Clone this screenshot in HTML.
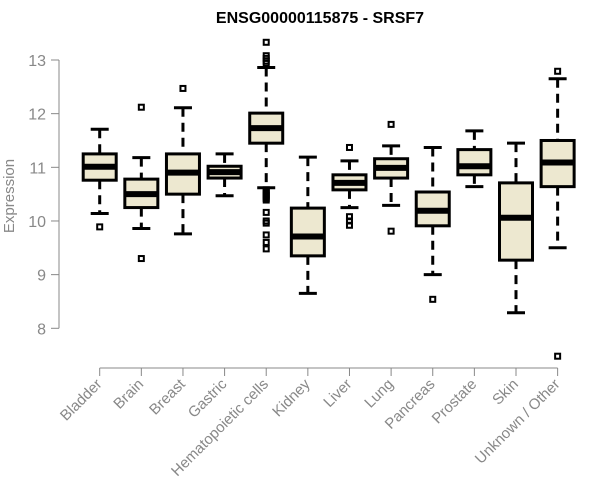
<!DOCTYPE html>
<html><head><meta charset="utf-8"><style>
body{margin:0;background:#fff}
svg{display:block;font-family:"Liberation Sans",Arial,sans-serif}
</style></head><body>
<svg id="chart" width="600" height="500">
<text x="320" y="23" text-anchor="middle" font-weight="bold" font-size="16" fill="#000">ENSG00000115875 - SRSF7</text>
<text transform="translate(14,196) rotate(-90)" text-anchor="middle" font-size="15" fill="#888">Expression</text>
<g id="yaxis"></g>
<g id="xaxis"></g>
<g id="boxes"></g>
</svg>
<script>
const categories=["Bladder","Brain","Breast","Gastric","Hematopoietic cells","Kidney","Liver","Lung","Pancreas","Prostate","Skin","Unknown / Other"];
const whiskerLow=[10.14,9.86,9.76,10.47,10.62,8.65,10.25,10.29,9.0,10.64,8.29,9.50];
const q1=[10.76,10.25,10.50,10.80,11.45,9.35,10.58,10.80,9.91,10.86,9.27,10.64];
const median=[11.01,10.50,10.90,10.91,11.73,9.71,10.71,10.99,10.19,11.02,10.06,11.09];
const q3=[11.25,10.78,11.25,11.02,12.01,10.24,10.86,11.16,10.54,11.33,10.71,11.50];
const whiskerHigh=[11.71,11.18,12.11,11.25,12.86,11.19,11.12,11.40,11.37,11.68,11.45,12.65];
const outliers=[[9.89],[12.12,9.30],[12.47],[],[13.33,13.08,13.03,12.98,12.94,10.58,10.55,10.52,10.48,10.45,10.42,10.39,10.16,10.0,9.96,9.74,9.60,9.48],[],[11.37,10.08,10.0,9.92],[11.80,9.81],[8.54],[],[],[12.79,7.48]];
const yTicks=[8,9,10,11,12,13];
const NS="http://www.w3.org/2000/svg";
const y=v=>328.3-(v-8)*53.66;
const x=i=>99.7+i*41.63;
function mk(tag,attrs,parent){const e=document.createElementNS(NS,tag);for(const k in attrs)e.setAttribute(k,attrs[k]);parent.appendChild(e);return e;}
const ya=document.getElementById('yaxis'),xa=document.getElementById('xaxis'),bx=document.getElementById('boxes');
mk('line',{x1:59,x2:59,y1:y(8),y2:y(13),stroke:'#888'},ya);
yTicks.forEach(t=>{
  mk('line',{x1:51,x2:59,y1:y(t),y2:y(t),stroke:'#888'},ya);
  const tx=mk('text',{x:46,y:y(t)+6,'text-anchor':'end','font-size':16,fill:'#888'},ya);
  tx.textContent=t;
  
  
});
mk('line',{x1:x(0),x2:x(categories.length-1),y1:368,y2:368,stroke:'#888'},xa);
categories.forEach((c,i)=>{
  mk('line',{x1:x(i),x2:x(i),y1:368,y2:376,stroke:'#888'},xa);
  const tx=mk('text',{transform:`translate(${x(i)+3},385) rotate(-45)`,'text-anchor':'end','font-size':15,fill:'#888'},xa);
  tx.textContent=c;
  
  
});
categories.forEach((c,i)=>{
  const g=mk('g',{},bx);
  
  
  const cx=x(i),hw=16.5,cw=9;
  mk('line',{x1:cx,x2:cx,y1:y(whiskerHigh[i]),y2:y(q3[i]),stroke:'#000','stroke-width':3,'stroke-dasharray':'9,6'},g);
  mk('line',{x1:cx,x2:cx,y1:y(q1[i]),y2:y(whiskerLow[i]),stroke:'#000','stroke-width':3,'stroke-dasharray':'9,6'},g);
  mk('line',{x1:cx-cw,x2:cx+cw,y1:y(whiskerHigh[i]),y2:y(whiskerHigh[i]),stroke:'#000','stroke-width':3},g);
  mk('line',{x1:cx-cw,x2:cx+cw,y1:y(whiskerLow[i]),y2:y(whiskerLow[i]),stroke:'#000','stroke-width':3},g);
  mk('rect',{x:cx-hw,y:y(q3[i]),width:2*hw,height:y(q1[i])-y(q3[i]),fill:'#ede8d0',stroke:'#000','stroke-width':3},g);
  mk('line',{x1:cx-hw,x2:cx+hw,y1:y(median[i]),y2:y(median[i]),stroke:'#000','stroke-width':6},g);
  outliers[i].forEach(v=>{
    const o=mk('rect',{x:cx-2.5,y:y(v)-2.5,width:5,height:5,fill:'none',stroke:'#000','stroke-width':2},g);
    
    
  });
});
</script>
</body></html>
